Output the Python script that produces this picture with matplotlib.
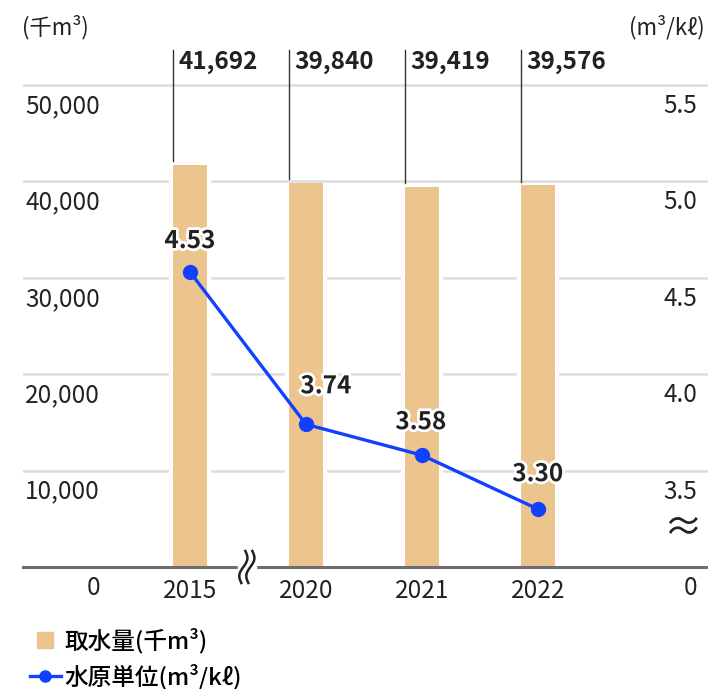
"""Water intake (bars) and water unit rate (line), dual axis with broken scale."""
import matplotlib
matplotlib.use("Agg")
import numpy as np
import matplotlib.pyplot as plt
import matplotlib.patheffects as pe
from matplotlib import transforms
from matplotlib.lines import Line2D

plt.rcParams["font.family"] = ["Noto Sans CJK JP", "DejaVu Sans"]

years = ["2015", "2020", "2021", "2022"]
intake = [41692, 39840, 39419, 39576]          # 千m3
unit_rate = [4.53, 3.74, 3.58, 3.30]            # m3/kl
left_ticks = [0, 10000, 20000, 30000, 40000, 50000]
left_labels = ["0", "10,000", "20,000", "30,000", "40,000", "50,000"]
right_ticks = [3.0, 3.5, 4.0, 4.5, 5.0, 5.5]
right_labels = ["0", "3.5", "4.0", "4.5", "5.0", "5.5"]

BAR = "#ECC48D"
BLUE = "#1240FF"
GRID = "#DDDDDD"
TXT = "#222222"
FS = 17.5

W, H = 708, 689
fig = plt.figure(figsize=(W / 100, H / 100), dpi=100)
ax = fig.add_axes([23 / W, (H - 567) / H, 685 / W, (567 - 45) / H])
ax2 = ax.twinx()

ymax = 54150
ax.set_ylim(0, ymax)
ax2.set_ylim(3.0, 3.0 + ymax / 20000)
ax.set_xlim(-1.44, 4.466)

for a in (ax, ax2):
    for s in a.spines.values():
        s.set_visible(False)
    a.set_yticks([])
ax.set_zorder(1)
ax2.set_zorder(2)
ax2.patch.set_visible(False)

x = list(range(len(years)))
bw = 0.293

# gridlines, white gap around bars, then bars
for v in left_ticks[1:]:
    ax.axhline(v, color=GRID, lw=1.8, zorder=0)
ax.bar(x, intake, width=bw + 0.07, color="white", zorder=1)
ax.bar(x, intake, width=bw, color=BAR, zorder=2)
ax.axhline(0, color="#6E6E6E", lw=2.2, zorder=3, clip_on=False)

# leader lines and totals above
for xi, v in zip(x, intake):
    xl = xi - bw / 2
    ax.plot([xl, xl], [v + 400, 53630], color="#333333", lw=1.0, zorder=3)
    ax.annotate(f"{v:,}", (xl, 53630), xytext=(5, -12), textcoords="offset pixels",
                ha="left", va="center", fontsize=FS, fontweight="bold", color=TXT)

# tick labels, sitting under their gridlines
off_left = transforms.offset_copy(ax.get_yaxis_transform(), fig=fig, x=0, y=-21, units="dots")
for v, lab in zip(left_ticks, left_labels):
    ax.text(0.1124, v, lab, transform=off_left, ha="right", va="center",
            fontsize=FS, color=TXT)
off_right = transforms.offset_copy(ax2.get_yaxis_transform(), fig=fig, x=0, y=-21, units="dots")
for v, lab in zip(right_ticks, right_labels):
    ax2.text(0.984, v, lab, transform=off_right, ha="right", va="center",
             fontsize=FS, color=TXT)

ax.set_xticks(x)
ax.set_xticklabels(years, fontsize=FS, color=TXT)
ax.tick_params(axis="x", length=0, pad=8)

# unit rate line
ax2.plot(x, unit_rate, color=BLUE, lw=2.4, marker="o", markersize=10, zorder=5)
label_offsets = [(0, 31), (20, 38), (-1, 33), (0, 35)]
for xi, v, (dx, dy) in zip(x, unit_rate, label_offsets):
    ax2.annotate(f"{v:.2f}", (xi, v), xytext=(dx, dy), textcoords="offset pixels",
                 ha="center", va="center", fontsize=FS, fontweight="bold", color=TXT,
                 path_effects=[pe.withStroke(linewidth=4, foreground="white")], zorder=6)

# axis break on the category axis: white gap plus two wavy strokes (sized in inches)
brk_x = 0.49
ax.plot([brk_x], [0], marker="s", markersize=13, color="white", zorder=4, clip_on=False)
brk_tr = fig.dpi_scale_trans + transforms.ScaledTranslation(brk_x, 0, ax.transData)
t = np.linspace(-1, 1, 40)
for dx in (-3.5, 3.5):
    xs = (dx + 3.0 * np.sin(t * np.pi) + 2.0 * t) / 100
    ys = 16 * t / 100
    ax.add_line(Line2D(xs, ys, color=TXT, lw=1.8, transform=brk_tr, zorder=5, clip_on=False))

ax.text(0.9635, 4046, "≈", transform=ax.get_yaxis_transform(), ha="center", va="center",
        fontsize=28, color=TXT)

# units
fig.text(22 / W, 1 - 27 / H, "(千m³)", ha="left", va="center", fontsize=16, color=TXT)
fig.text(705 / W, 1 - 27 / H, "(m³/kℓ)", ha="right", va="center", fontsize=16, color=TXT)

handles = [
    Line2D([], [], color=BAR, marker="s", linestyle="none", markersize=11),
    Line2D([], [], color=BLUE, marker="o", lw=2.4, markersize=8),
]
fig.legend(handles, ["取水量(千m³)", "水原単位(m³/kℓ)"], loc="upper left",
           bbox_to_anchor=(18 / W, 1 - 616 / H), frameon=False,
           handlelength=1.3, handletextpad=0.15, labelspacing=0.45, borderpad=0,
           prop={"size": 17, "weight": "medium"})

fig.savefig("out.png", dpi=100)
